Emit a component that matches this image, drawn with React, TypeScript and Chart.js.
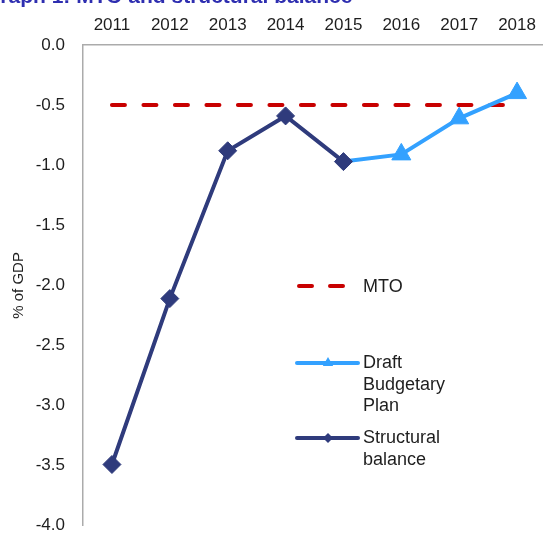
import React, { useEffect, useRef } from "react";
import { Chart, registerables } from "chart.js";

Chart.register(...registerables);

const years = ["2011", "2012", "2013", "2014", "2015", "2016", "2017", "2018"];
const structuralBalance: (number | null)[] = [-3.49, -2.11, -0.88, -0.59, -0.97, null, null, null];
const draftBudgetaryPlan: (number | null)[] = [null, null, null, null, -0.97, -0.91, -0.61, -0.4];
const mto: number[] = [-0.5, -0.5, -0.5, -0.5, -0.5, -0.5, -0.5, -0.5];
const dbpMarkerShown: boolean[] = [false, false, false, false, false, true, true, true];

const NAVY = "#2F3B7C";
const LIGHT_BLUE = "#33A1FF";
const RED = "#C80000";
const TEXT = "#1E1E1E";
const FONT = "'Liberation Sans', Arial, sans-serif";

const legendPlugin = {
  id: "insideLegend",
  afterDraw(chart: any) {
    const ctx = chart.ctx as CanvasRenderingContext2D;
    ctx.save();
    ctx.font = `18px ${FONT}`;
    ctx.fillStyle = TEXT;
    ctx.textBaseline = "middle";
    ctx.textAlign = "left";
    const x0 = 297;
    const x1 = 358;
    const tx = 363;

    // MTO
    ctx.strokeStyle = RED;
    ctx.lineWidth = 4;
    ctx.lineCap = "round";
    ctx.setLineDash([13, 18]);
    ctx.beginPath();
    ctx.moveTo(x0 + 2, 286);
    ctx.lineTo(345, 286);
    ctx.stroke();
    ctx.setLineDash([]);
    ctx.fillText("MTO", tx, 287);

    // DBP
    ctx.strokeStyle = LIGHT_BLUE;
    ctx.lineWidth = 4;
    ctx.beginPath();
    ctx.moveTo(x0, 363);
    ctx.lineTo(x1, 363);
    ctx.stroke();
    ctx.fillStyle = LIGHT_BLUE;
    ctx.beginPath();
    const r = 6;
    ctx.moveTo(328, 363 - r);
    ctx.lineTo(328 + r * 0.866, 363 + r * 0.5);
    ctx.lineTo(328 - r * 0.866, 363 + r * 0.5);
    ctx.closePath();
    ctx.fill();
    ctx.fillStyle = TEXT;
    ctx.fillText("Draft", tx, 363);
    ctx.fillText("Budgetary", tx, 385);
    ctx.fillText("Plan", tx, 406);

    // Structural balance
    ctx.strokeStyle = NAVY;
    ctx.beginPath();
    ctx.moveTo(x0, 438);
    ctx.lineTo(x1, 438);
    ctx.stroke();
    ctx.fillStyle = NAVY;
    ctx.beginPath();
    const d = 5;
    ctx.moveTo(328, 438 - d);
    ctx.lineTo(328 + d, 438);
    ctx.lineTo(328, 438 + d);
    ctx.lineTo(328 - d, 438);
    ctx.closePath();
    ctx.fill();
    ctx.fillStyle = TEXT;
    ctx.fillText("Structural", tx, 438);
    ctx.fillText("balance", tx, 460);
    ctx.restore();
  },
};

export default function App() {
  const canvasRef = useRef<HTMLCanvasElement | null>(null);

  useEffect(() => {
    document.documentElement.style.overflow = "hidden";
    document.body.style.overflow = "hidden";
    const canvas = canvasRef.current;
    if (!canvas) return;
    const chart = new Chart(canvas, {
      type: "line",
      data: {
        labels: years,
        datasets: [
          {
            label: "Structural balance",
            data: structuralBalance,
            borderColor: NAVY,
            backgroundColor: NAVY,
            borderWidth: 4,
            pointStyle: "rectRot",
            pointRadius: 9,
            pointBorderWidth: 1,
            pointBackgroundColor: NAVY,
            pointBorderColor: NAVY,
            tension: 0,
            spanGaps: false,
            order: 0,
          },
          {
            label: "Draft Budgetary Plan",
            data: draftBudgetaryPlan,
            borderColor: LIGHT_BLUE,
            backgroundColor: LIGHT_BLUE,
            borderWidth: 4,
            pointStyle: "triangle",
            pointRadius: dbpMarkerShown.map((s) => (s ? 11 : 0)),
            pointBorderWidth: 1,
            pointBackgroundColor: LIGHT_BLUE,
            pointBorderColor: LIGHT_BLUE,
            tension: 0,
            order: 1,
          },
          {
            label: "MTO",
            data: mto,
            borderColor: RED,
            backgroundColor: RED,
            borderWidth: 4,
            borderDash: [13, 18.5],
            borderCapStyle: "round",
            pointRadius: 0,
            tension: 0,
            order: 2,
          },
        ],
      },
      options: {
        animation: false,
        responsive: true,
        maintainAspectRatio: false,
        layout: { padding: { left: 10, right: 14, top: 0, bottom: 0 } },
        plugins: {
          legend: { display: false },
          tooltip: { enabled: false },
          title: { display: false },
        },
        scales: {
          x: {
            type: "category",
            position: "top",
            offset: true,
            grid: { display: false, drawTicks: false },
            border: { display: true, color: "#ABABAB", width: 1.5 },
            ticks: {
              color: TEXT,
              font: { family: FONT, size: 17 },
              padding: 9,
              maxRotation: 0,
              autoSkip: false,
            },
            afterFit: (scale: any) => {
              scale.height = 45;
            },
          },
          y: {
            min: -4,
            max: 0,
            grid: { display: false, drawTicks: false },
            border: { display: true, color: "#ABABAB", width: 1.5 },
            ticks: {
              stepSize: 0.5,
              color: TEXT,
              font: { family: FONT, size: 17 },
              padding: 18,
              callback: (v: any) => Number(v).toFixed(1),
            },
            title: {
              display: true,
              text: "% of GDP",
              color: TEXT,
              font: { family: FONT, size: 15 },
              padding: { top: 0, bottom: 0 },
            },
            afterFit: (scale: any) => {
              scale.width = 73;
            },
          },
        },
      },
      plugins: [legendPlugin],
    } as any);
    return () => chart.destroy();
  }, []);

  return (
    <div
      style={{
        position: "fixed",
        left: 0,
        top: 0,
        width: 560,
        height: 554,
        background: "#ffffff",
        overflow: "hidden",
      }}
    >
      <div
        style={{
          position: "absolute",
          left: -16,
          top: -16,
          fontFamily: FONT,
          fontWeight: "bold",
          fontSize: 21,
          color: "#2E2EB0",
          whiteSpace: "nowrap",
          zIndex: 2,
        }}
      >
        Graph 1: MTO and structural balance
      </div>
      <div style={{ position: "absolute", left: 0, top: 0, width: 560, height: 554 }}>
        <canvas ref={canvasRef} />
      </div>
    </div>
  );
}
